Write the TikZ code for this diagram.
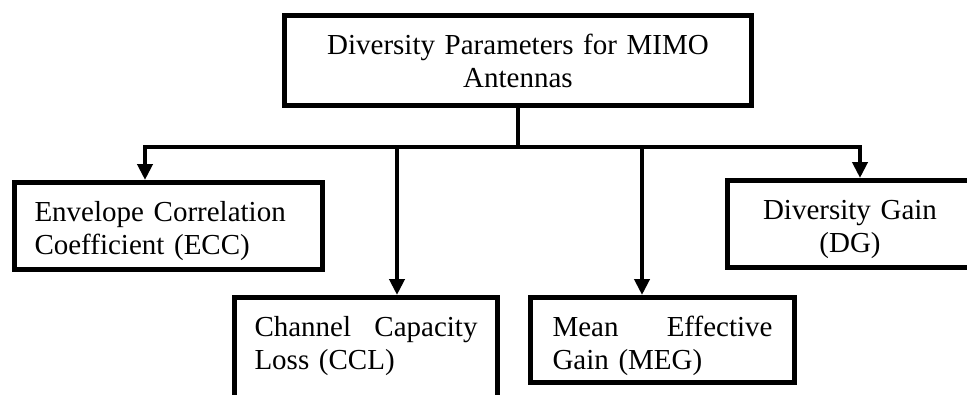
\documentclass[tikz,border=0pt]{standalone}
\usepackage{fontspec}
\setmainfont{Liberation Serif}
\usetikzlibrary{arrows.meta}

\begin{document}
\begin{tikzpicture}[x=1pt,y=-1pt,
  box/.style={draw,rectangle,line width=5pt,anchor=north west,inner xsep=20pt,
    inner ysep=0pt,text height=39pt,font=\fontsize{29}{33}\selectfont},
  link/.style={line width=4pt},
  tip/.style={-{Triangle[width=15pt,length=16pt]}}]
  \useasboundingbox (0,0) rectangle (967,394);
  \clip (0,0) rectangle (967,394);
  \node (root) [box,align=center,text width=427pt,text depth=51pt] at (282,13)
    {Diversity Parameters for MIMO\\Antennas};
  \node (ecc) [box,align=left,text width=268pt,text depth=48pt] at (12,180)
    {Envelope Correlation\\Coefficient (ECC)};
  \node (ccl) [box,align=left,text width=223pt,text depth=111pt] at (232,295)
    {Channel\hfill Capacity\\Loss (CCL)};
  \node (meg) [box,align=left,inner xsep=22pt,text width=220pt,text depth=46pt] at (528,295)
    {Mean\hfill Effective\\Gain (MEG)};
  \node (dg) [box,align=center,text width=205pt,text depth=48pt] at (725,178)
    {Diversity Gain\\(DG)};
  \coordinate (hub) at ([yshift=-39pt]root.south);
  \draw[link] (root.south) -- (hub);
  \draw[link,tip] (hub) -| ([xshift=-23.5pt]ecc.north);
  \draw[link,tip] (hub) -| ([xshift=31pt]ccl.north);
  \draw[link,tip] (hub) -| ([xshift=-20.5pt]meg.north);
  \draw[link,tip] (hub) -| ([xshift=10pt]dg.north);
\end{tikzpicture}
\end{document}
